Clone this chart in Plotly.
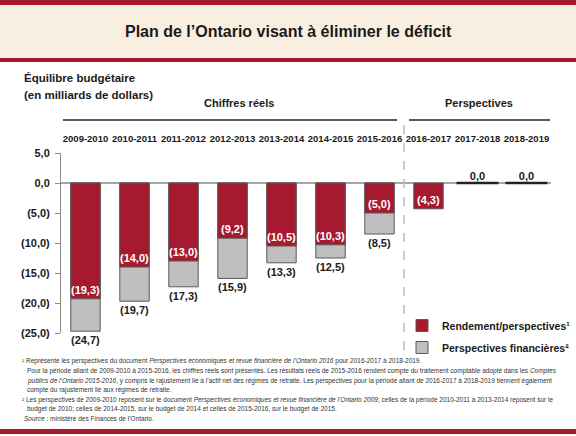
import plotly.graph_objects as go

# ---------------- data ----------------
years = ["2009-2010", "2010-2011", "2011-2012", "2012-2013", "2013-2014",
         "2014-2015", "2015-2016", "2016-2017", "2017-2018", "2018-2019"]
actual = [-19.3, -14.0, -13.0, -9.2, -10.5, -10.3, -5.0, -4.3, 0.0, 0.0]
plan = [-24.7, -19.7, -17.3, -15.9, -13.3, -12.5, -8.5, None, None, None]
ytick_vals = [5, 0, -5, -10, -15, -20, -25]

name_actual = "Rendement/perspectives\u00b9"
name_plan = "Perspectives financi\u00e8res\u00b2"

RED = "#A6192E"
GREY = "#BFBFBF"
EDGE = "#595959"
FONT = "Liberation Sans, Arial, sans-serif"


def fmt(v):
    s = f"{abs(v):.1f}".replace(".", ",")
    return f"({s})" if v < 0 else s


# ---------------- geometry helpers (decoration only) ----------------
W, H = 576, 436
ML, MR, MT, MB = 61, 25, 153, 103
PW, PH = W - ML - MR, H - MT - MB


def PX(x):
    return (x - ML) / PW


def PY(y):
    return (H - MB - y) / PH


fig = go.Figure()

# grey plan bars (underneath)
fig.add_trace(go.Bar(
    x=years, y=plan, name=name_plan, width=0.6,
    marker=dict(color=GREY, line=dict(color=EDGE, width=1)),
    text=[fmt(v) if v is not None else "" for v in plan],
    textposition="outside", cliponaxis=False, constraintext="none",
    textangle=0,
    outsidetextfont=dict(family=FONT, size=11, color="#1a1a1a", weight="bold"),
    legendgroup="b", legendrank=2, hoverinfo="skip",
))

red_y = [v if v != 0 else None for v in actual]
fig.add_trace(go.Bar(
    x=years, y=red_y, name=name_actual, width=0.6,
    marker=dict(color=RED, line=dict(color=EDGE, width=1)),
    text=[fmt(v) if v is not None else "" for v in red_y],
    textposition="inside", insidetextanchor="end", constraintext="none",
    textangle=0, cliponaxis=False,
    insidetextfont=dict(family=FONT, size=11, color="white", weight="bold"),
    legendgroup="a", legendrank=1, hoverinfo="skip",
))

# zero-valued outlook years
zx = [years[i] for i, v in enumerate(actual) if v == 0]
zy = [v for v in actual if v == 0]
fig.add_trace(go.Scatter(
    x=zx, y=zy, mode="markers", showlegend=False, hoverinfo="skip",
    marker=dict(symbol="line-ew", size=30, line=dict(color="#222222", width=2.5)),
    cliponaxis=False,
))
fig.add_trace(go.Scatter(
    x=zx, y=zy, mode="text", showlegend=False, hoverinfo="skip",
    text=[fmt(v) for v in zy], textposition="top center",
    textfont=dict(family=FONT, size=11, color="#1a1a1a", weight="bold"),
    cliponaxis=False,
))

shapes = []
# title band
shapes.append(dict(type="rect", xref="paper", yref="paper",
                   x0=PX(0), x1=PX(W), y0=PY(5), y1=PY(0),
                   fillcolor=RED, line=dict(width=0), layer="below"))
shapes.append(dict(type="rect", xref="paper", yref="paper",
                   x0=PX(0), x1=PX(W), y0=PY(58), y1=PY(5),
                   fillcolor="#F8EFE1", line=dict(width=0), layer="below"))
shapes.append(dict(type="rect", xref="paper", yref="paper",
                   x0=PX(0), x1=PX(W), y0=PY(62), y1=PY(58),
                   fillcolor=RED, line=dict(width=0), layer="below"))
shapes.append(dict(type="rect", xref="paper", yref="paper",
                   x0=PX(0), x1=PX(W), y0=PY(434), y1=PY(429),
                   fillcolor=RED, line=dict(width=0), layer="below"))
# header rules
shapes.append(dict(type="line", xref="paper", yref="paper",
                   x0=PX(63), x1=PX(397), y0=PY(120), y1=PY(120),
                   line=dict(color="#222222", width=1.5)))
shapes.append(dict(type="line", xref="paper", yref="paper",
                   x0=PX(409), x1=PX(550), y0=PY(120), y1=PY(120),
                   line=dict(color="#222222", width=1.5)))
# separator between actuals and outlook
shapes.append(dict(type="line", xref="x", yref="paper",
                   x0=6.5, x1=6.5, y0=PY(350), y1=PY(117),
                   line=dict(color="#BBBBBB", width=1.5, dash="dash")))

bold = dict(family=FONT, color="#1a1a1a", weight="bold")
annotations = [
    dict(text="Plan de l\u2019Ontario visant \u00e0 \u00e9liminer le d\u00e9ficit",
         x=PX(288), y=PY(32), xref="paper", yref="paper", showarrow=False,
         xanchor="center", yanchor="middle", font=dict(bold, size=16)),
    dict(text="\u00c9quilibre budg\u00e9taire",
         x=PX(22), y=PY(78), xref="paper", yref="paper", showarrow=False,
         xanchor="left", yanchor="middle", font=dict(bold, size=11.5)),
    dict(text="(en milliards de dollars)",
         x=PX(22), y=PY(95), xref="paper", yref="paper", showarrow=False,
         xanchor="left", yanchor="middle", font=dict(bold, size=11.5)),
    dict(text="Chiffres r\u00e9els", x=PX(239), y=PY(103), xref="paper", yref="paper",
         showarrow=False, xanchor="center", yanchor="middle", font=dict(bold, size=11)),
    dict(text="Perspectives", x=PX(479), y=PY(103), xref="paper", yref="paper",
         showarrow=False, xanchor="center", yanchor="middle", font=dict(bold, size=11)),
]

foot = [
    (20, 361, "\u00b9 Repr\u00e9sente les perspectives du document <i>Perspectives \u00e9conomiques et revue financi\u00e8re de l\u2019Ontario 2016</i> pour 2016-2017 \u00e0 2018-2019."),
    (25, 371, "Pour la p\u00e9riode allant de 2009-2010 \u00e0 2015-2016, les chiffres r\u00e9els sont pr\u00e9sent\u00e9s. Les r\u00e9sultats r\u00e9els de 2015-2016 rendent compte du traitement comptable adopt\u00e9 dans les <i>Comptes</i>"),
    (25, 381, "<i>publics de l\u2019Ontario 2015-2016</i>, y compris le rajustement li\u00e9 \u00e0 l\u2019actif net des r\u00e9gimes de retraite. Les perspectives pour la p\u00e9riode allant de 2016-2017 \u00e0 2018-2019 tiennent \u00e9galement"),
    (25, 390, "compte du rajustement li\u00e9 aux r\u00e9gimes de retraite."),
    (20, 400, "\u00b2 Les perspectives de 2009-2010 reposent sur le document <i>Perspectives \u00e9conomiques et revue financi\u00e8re de l\u2019Ontario 2009</i>; celles de la p\u00e9riode 2010-2011 \u00e0 2013-2014 reposent sur le"),
    (25, 409, "budget de 2010; celles de 2014-2015, sur le budget de 2014 et celles de 2015-2016, sur le budget de 2015."),
    (22, 418, "<i>Source</i> : minist\u00e8re des Finances de l\u2019Ontario."),
]
for x, y, t in foot:
    annotations.append(dict(text=t, x=PX(x), y=PY(y), xref="paper", yref="paper",
                            showarrow=False, xanchor="left", yanchor="middle",
                            align="left",
                            font=dict(family=FONT, size=6.5, color="#333333")))

fig.update_layout(
    width=W, height=H,
    margin=dict(l=ML, r=MR, t=MT, b=MB, pad=0, autoexpand=False),
    paper_bgcolor="white", plot_bgcolor="white",
    barmode="overlay",
    shapes=shapes, annotations=annotations,
    font=dict(family=FONT, color="#1a1a1a"),
    legend=dict(x=PX(402), y=PY(311), xanchor="left", yanchor="top",
                xref="paper", yref="paper",
                font=dict(family=FONT, size=10.5, color="#1a1a1a", weight="bold"),
                traceorder="grouped", tracegroupgap=3, bgcolor="rgba(0,0,0,0)"),
    showlegend=True,
)
fig.update_xaxes(
    type="category", categoryorder="array", categoryarray=years,
    range=[-0.5, len(years) - 0.5], side="top", tickangle=0,
    showgrid=False, zeroline=False, showline=False, ticks="",
    ticklabelstandoff=8,
    tickfont=dict(family=FONT, size=9.5, color="#1a1a1a", weight="bold"),
)
fig.update_yaxes(
    range=[-25, 5], tickvals=ytick_vals, ticktext=[fmt(v) for v in ytick_vals],
    showgrid=False, zeroline=True, zerolinecolor="#A6A6A6", zerolinewidth=1.5,
    showline=True, linecolor="#8C8C8C", linewidth=1,
    ticks="outside", ticklen=5, tickcolor="#8C8C8C", ticklabelstandoff=3,
    tickfont=dict(family=FONT, size=11, color="#1a1a1a", weight="bold"),
)

fig.write_html("out.html", config={"displayModeBar": False},
               post_script="document.body.style.margin='0';document.body.style.overflow='hidden';")
